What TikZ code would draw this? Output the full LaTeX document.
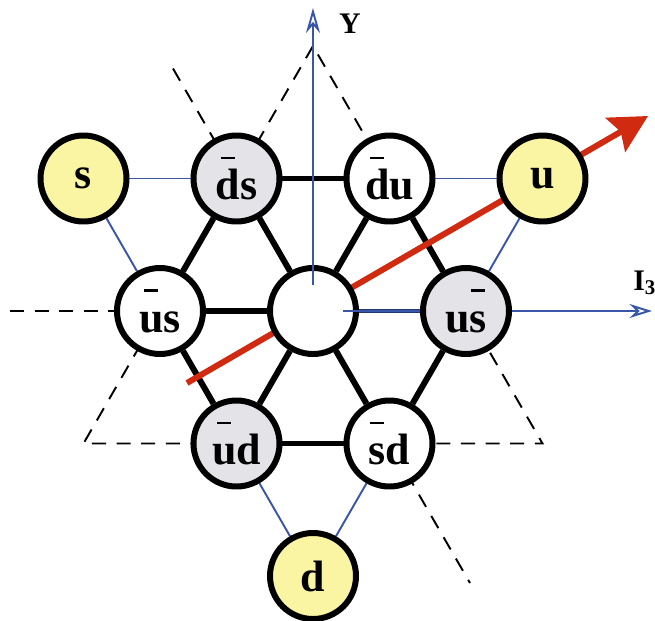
\documentclass[tikz,border=0pt]{standalone}
\usepackage{fontspec}
\setmainfont{Liberation Serif}
\usepackage{xcolor}
\usetikzlibrary{positioning}
\usetikzlibrary{arrows.meta}
\definecolor{quarkyellow}{HTML}{FAF5A3}
\definecolor{mesongray}{HTML}{E3E3E8}
\definecolor{axisblue}{HTML}{3A56A8}
\definecolor{axisnavy}{HTML}{203A70}
\definecolor{arrowred}{HTML}{D02A10}
\pgfdeclarelayer{bg}
\pgfsetlayers{bg,main}
% antiquark bar over a single letter
\newcommand{\ab}[1]{\setbox0\hbox{#1}\rlap{\hbox to\wd0{\hss\raisebox{23pt}{\rule{8pt}{1.3pt}}\hss}}\box0}

\begin{document}
\begin{tikzpicture}[node distance=3.06cm,on grid,
   meson/.style={circle,draw,line width=3.4pt,minimum size=1.72cm,inner sep=0pt,
     font=\fontsize{25}{25}\selectfont\bfseries},
   quark/.style={meson,fill=quarkyellow},
   hexline/.style={line width=3.4pt},
   quarkline/.style={axisblue,line width=1.1pt},
   guide/.style={line width=1.1pt,dash pattern=on 8pt off 6pt},
   axisline/.style={axisblue,line width=1.1pt},
   axislabel/.style={inner sep=0pt,font=\fontsize{17}{17}\selectfont\bfseries}]
   \useasboundingbox (-6.26,-6.18) rectangle (6.84,6.22);

   \node[meson,fill=white] (c) {};
   \node[meson,fill=mesongray] (ds) [above left=2.65cm and 1.53cm of c] {\ab{d}s};
   \node[meson,fill=white] (du) [above right=2.65cm and 1.53cm of c] {\ab{d}u};
   \node[meson,fill=white] (us) [left=of c] {\ab{u}s};
   \node[meson,fill=mesongray] (usb) [right=of c] {u\ab{s}};
   \node[meson,fill=mesongray] (ud) [below left=2.65cm and 1.53cm of c] {\ab{u}d};
   \node[meson,fill=white] (sd) [below right=2.65cm and 1.53cm of c] {\ab{s}d};
   \node[quark] (s) [left=of ds] {s};
   \node[quark] (u) [right=of du] {u};
   \node[quark] (d) [below left=2.65cm and 1.53cm of sd] {d};

   \coordinate[above=5.3cm of c] (top);
   \coordinate[below left=2.65cm and 4.59cm of c] (bl);
   \coordinate[below right=2.65cm and 4.59cm of c] (br);
   \coordinate[left=6.06cm of c] (gl);
   \coordinate[above left=4.85cm and 2.8cm of c] (gtop);
   \coordinate[below right=5.44cm and 3.14cm of c] (gbot);
   \coordinate[above=0.52cm of c] (y0);
   \coordinate[above=6.06cm of c] (ytop);
   \coordinate[right=0.6cm of c] (x0);
   \coordinate[right=6.78cm of c] (xend);
   \coordinate[below left=1.44cm and 2.52cm of c] (r0);
   \coordinate[above right=3.9cm and 6.7cm of c] (r1);

   \begin{pgfonlayer}{bg}
     \draw[guide] (top) -- (bl) -- (br) -- cycle;
     \draw[guide] (gl) -- (c);
     \draw[guide] (gtop) -- (gbot);
     \path[quarkline]
       (s) edge (ds) edge (us)
       (u) edge (du) edge (usb)
       (d) edge (ud) edge (sd);
     \path[hexline]
       (ds) edge (du) edge (c) edge (us)
       (du) edge (usb) edge (c)
       (sd) edge (usb) edge (ud) edge (c)
       (ud) edge (us) edge (c)
       (us) edge (c);
     \draw[axisnavy,line width=2.2pt] (c) -- (usb);
     \draw[arrowred,line width=3.4pt,-{Stealth[length=0.75cm,width=0.78cm,inset=0.12cm]}] (r0) -- (r1);
     \draw[axisline,-{Stealth[open,length=0.5cm,width=0.28cm]}] (y0) -- (ytop);
     \draw[axisline,-{Stealth[open,length=0.45cm,width=0.28cm]}] (x0) -- (xend);
   \end{pgfonlayer}
   \draw[axisline] (y0) -- (c.north);
   \draw[axisline] (x0) -- (c.east);

   \node[axislabel,anchor=base] (ylab) at (0.74,5.56) {Y};
   \node[axislabel,anchor=base west] (ilab) at (6.4,0.42) {I\textsubscript{3}};
\end{tikzpicture}
\end{document}
